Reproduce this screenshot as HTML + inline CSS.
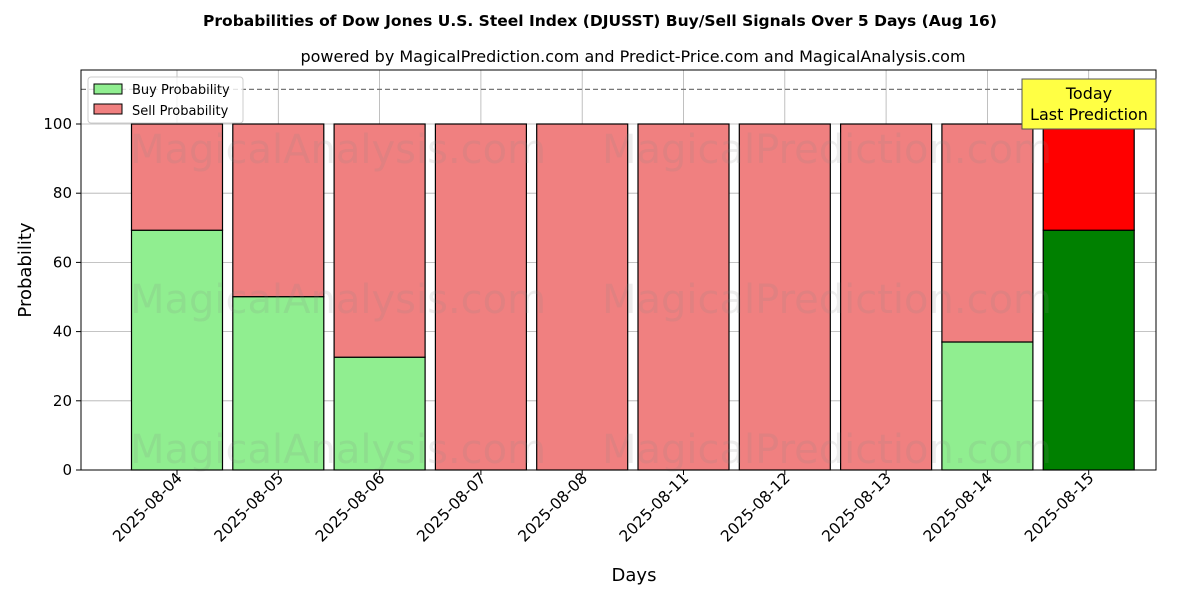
<!DOCTYPE html>
<html><head><meta charset="utf-8"><style>body{margin:0;background:#fff}svg{font-family:"DejaVu Sans","Liberation Sans",sans-serif}</style></head>
<body>
<svg id="chart" width="1200" height="600" xmlns="http://www.w3.org/2000/svg">
<text x="600" y="26" text-anchor="middle" font-size="15.5" font-weight="bold">Probabilities of Dow Jones U.S. Steel Index (DJUSST) Buy/Sell Signals Over 5 Days (Aug 16)</text>
<text x="633" y="62" text-anchor="middle" font-size="16">powered by MagicalPrediction.com and Predict-Price.com and MagicalAnalysis.com</text>
<g id="grid"></g><g id="bars"></g><g id="wm" font-size="40" fill="#888" fill-opacity="0.15"></g>
<line x1="81" x2="1156" y1="89.4" y2="89.4" stroke="#777" stroke-dasharray="5,3" stroke-width="1.2"/>
<rect x="81" y="70" width="1075" height="400" fill="none" stroke="#000" stroke-width="1"/>
<g id="axes"></g>
<text x="634" y="581" text-anchor="middle" font-size="18">Days</text>
<text transform="translate(31,270) rotate(-90)" text-anchor="middle" font-size="18">Probability</text>
<g>
<rect x="88" y="77" width="155" height="46" fill="#fff" fill-opacity="0.8" stroke="#ccc" rx="3"/>
<rect x="94" y="84" width="28" height="10" fill="#90ee90" stroke="#000"/>
<text x="132" y="94" font-size="13">Buy Probability</text>
<rect x="94" y="104" width="28" height="10" fill="#f08080" stroke="#000"/>
<text x="132" y="115" font-size="13">Sell Probability</text>
</g>
<g>
<rect x="1022" y="79" width="134" height="50" fill="#ffff44" stroke="#555"/>
<text x="1089" y="99" text-anchor="middle" font-size="16">Today</text>
<text x="1089" y="120" text-anchor="middle" font-size="16">Last Prediction</text>
</g>
</svg>
<script>
const categories=["2025-08-04","2025-08-05","2025-08-06","2025-08-07","2025-08-08","2025-08-11","2025-08-12","2025-08-13","2025-08-14","2025-08-15"];
const buyValues=[69.3,50.1,32.6,0,0,0,0,0,37.0,69.3];
const sellValues=[30.7,49.9,67.4,100,100,100,100,100,63.0,30.7];
const yTicks=[0,20,40,60,80,100];
const NS="http://www.w3.org/2000/svg";
const x=i=>177+i*101.3, y=v=>470-v*3.46, bw=91;
function mk(p,t,a){const e=document.createElementNS(NS,t);for(const k in a)e.setAttribute(k,a[k]);p.appendChild(e);return e;}
const grid=document.getElementById('grid'),bars=document.getElementById('bars'),axes=document.getElementById('axes'),wm=document.getElementById('wm');
yTicks.forEach(t=>{const l=mk(grid,'line',{x1:81,x2:1156,y1:y(t),y2:y(t),stroke:'#b0b0b0','stroke-width':0.8});

const tk=mk(axes,'line',{x1:76,x2:81,y1:y(t),y2:y(t),stroke:'#000'});
const tx=mk(axes,'text',{x:72,y:y(t)+5,'text-anchor':'end','font-size':15});tx.textContent=t;});
categories.forEach((c,i)=>{const l=mk(grid,'line',{x1:x(i),x2:x(i),y1:70,y2:470,stroke:'#b0b0b0','stroke-width':0.8});

const last=i===categories.length-1;
const b=mk(bars,'rect',{x:x(i)-bw/2,y:y(buyValues[i]),width:bw,height:buyValues[i]*3.46,fill:last?'#008000':'#90ee90',stroke:'#000','stroke-width':1.2});

const s=mk(bars,'rect',{x:x(i)-bw/2,y:y(buyValues[i]+sellValues[i]),width:bw,height:sellValues[i]*3.46,fill:last?'#ff0000':'#f08080',stroke:'#000','stroke-width':1.2});

const tk=mk(axes,'line',{x1:x(i),x2:x(i),y1:470,y2:475,stroke:'#000'});
const tx=mk(axes,'text',{transform:`translate(${x(i)+6},479) rotate(-45)`,'text-anchor':'end','font-size':15.5});tx.textContent=c;});
[[130,163,'MagicalAnalysis.com'],[602,163,'MagicalPrediction.com'],[130,313,'MagicalAnalysis.com'],[602,313,'MagicalPrediction.com'],[130,463,'MagicalAnalysis.com'],[602,463,'MagicalPrediction.com']].forEach(w=>{const t=mk(wm,'text',{x:w[0],y:w[1]});t.textContent=w[2];});
</script>
</body></html>
